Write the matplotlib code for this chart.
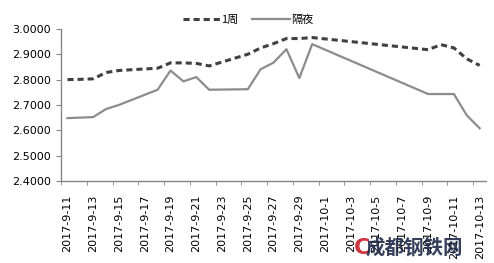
import matplotlib.pyplot as plt
import pandas as pd

plt.rcParams['font.family'] = ['DejaVu Sans']

dates = ["2017-9-11", "2017-9-12", "2017-9-13", "2017-9-14", "2017-9-15",
         "2017-9-18", "2017-9-19", "2017-9-20", "2017-9-21", "2017-9-22",
         "2017-9-25", "2017-9-26", "2017-9-27", "2017-9-28", "2017-9-29",
         "2017-9-30", "2017-10-9", "2017-10-10", "2017-10-11", "2017-10-12",
         "2017-10-13"]
week = [2.800, 2.801, 2.803, 2.828, 2.836,
        2.845, 2.866, 2.866, 2.864, 2.854,
        2.900, 2.925, 2.942, 2.962, 2.962,
        2.966, 2.918, 2.938, 2.925, 2.882,
        2.856]
overnight = [2.648, 2.650, 2.652, 2.684, 2.700,
             2.760, 2.836, 2.793, 2.810, 2.760,
             2.762, 2.841, 2.867, 2.920, 2.806,
             2.940, 2.743, 2.743, 2.743, 2.659,
             2.608]

start = pd.Timestamp("2017-9-11")
days = [(pd.Timestamp(d) - start).days for d in dates]
n_days = 32
all_days = pd.date_range(start, periods=n_days + 1)
tick_labels = [f"{d.year}-{d.month}-{d.day}" for d in all_days[::2]]

fig = plt.figure(figsize=(4.94, 2.63), dpi=100)
ax = fig.add_axes([0.1235, 0.312, 0.8605, 0.578])

l1, = ax.plot(days, week, color="#404040", lw=2.2, ls=(0, (2, 1.3)), label="1周")
l2, = ax.plot(days, overnight, color="#8c8c8c", lw=1.6, label="隔夜")

ax.set_xlim(-0.5, n_days + 0.5)
ax.set_ylim(2.4, 3.0)
ax.set_yticks([2.4, 2.5, 2.6, 2.7, 2.8, 2.9, 3.0])
ax.set_yticklabels([f"{v:.4f}" for v in ax.get_yticks()], fontsize=8)

# labels sit on each other day, tick marks between days
ax.set_xticks(range(0, n_days + 1, 2))
ax.set_xticklabels(tick_labels, rotation=90, fontsize=8)
ax.tick_params(axis="x", which="major", length=0, pad=10)
ax.set_xticks([d - 0.5 for d in range(0, n_days + 1, 2)], minor=True)
ax.tick_params(axis="x", which="minor", length=3, color="#868686")
ax.tick_params(axis="y", length=3.5, color="#868686", pad=4)

for s in ["top", "right"]:
    ax.spines[s].set_visible(False)
for s in ["left", "bottom"]:
    ax.spines[s].set_color("#868686")
    ax.spines[s].set_linewidth(1)

fig.legend(handles=[l1, l2], loc="center", bbox_to_anchor=(0.502, 0.924), ncol=2,
           frameon=False, prop={"family": ["Noto Sans CJK SC"], "size": 8},
           handlelength=3.4, handletextpad=0.1, columnspacing=1.2)

# watermark
fig.text(0.733, 0.058, "C", fontsize=16, fontweight="bold", color="#c8202a",
         ha="center", va="center", alpha=0.9)
fig.text(0.838, 0.058, "成都钢铁网", fontsize=14, fontweight="bold", color="#1f2a4a",
         family=["Noto Sans CJK SC"], ha="center", va="center", alpha=0.9)

plt.savefig("out.png", dpi=100)
